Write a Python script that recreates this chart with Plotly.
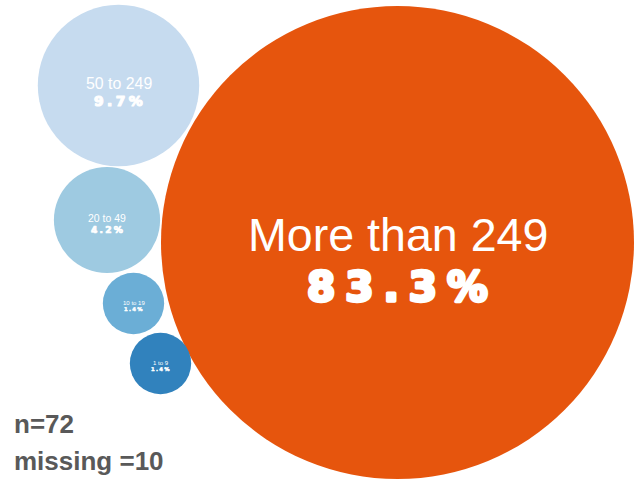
import math
import plotly.graph_objects as go

# Company size groups (number of employees) and their share of respondents
categories = ["More than 249", "50 to 249", "20 to 49", "10 to 19", "1 to 9"]
shares = [83.3, 9.7, 4.2, 1.4, 1.4]
sample_note = ["n=72", "missing =10"]

# Layout of the packed bubbles (centres in page pixels) and colours
centres_x = [397.5, 118.5, 107.0, 133.5, 160.5]
centres_y = [242.5, 85.5, 220.0, 303.5, 363.5]
colours = ["#E6550D", "#C6DBEF", "#9ECAE1", "#6BAED6", "#3182BD"]

W, H = 638, 481
MAX_DIAMETER = 473
sizeref = 2.0 * max(shares) / MAX_DIAMETER ** 2


def radius(v):
    # radius Plotly gives a bubble in area mode
    return math.sqrt(v / (2.0 * sizeref))


fig = go.Figure()
fig.add_trace(go.Scatter(
    x=centres_x, y=centres_y, mode="markers",
    marker=dict(size=shares, sizemode="area", sizeref=sizeref,
                color=colours, opacity=1, line=dict(width=0)),
    hoverinfo="skip", cliponaxis=False,
))

annotations = []
for cat, v, cx, cy in zip(categories, shares, centres_x, centres_y):
    r = radius(v)
    annotations.append(dict(
        x=cx, y=cy - 0.03 * r, xref="x", yref="y", text=cat, showarrow=False,
        font=dict(family="Liberation Sans, Arial", size=0.197 * r, color="white"),
        xanchor="center", yanchor="middle",
    ))
    spacing = 0.042 * r
    style = (f"letter-spacing:{spacing:.2f}px;"
             f"stroke:white;stroke-width:{0.014 * r:.2f}px;stroke-linejoin:round")
    annotations.append(dict(
        x=cx + spacing / 2, y=cy + 0.19 * r, xref="x", yref="y",
        text=f"<span style='{style}'>{v:.1f}%</span>",
        showarrow=False,
        font=dict(family="DejaVu Sans", size=0.172 * r, color="white", weight=900),
        xanchor="center", yanchor="middle",
    ))

for i, note in enumerate(sample_note):
    annotations.append(dict(
        x=12, y=424 + 37 * i, xref="x", yref="y", text=note, showarrow=False,
        font=dict(family="Liberation Sans", size=26,
                  color="#595959", weight="bold"),
        xanchor="left", yanchor="middle",
    ))

fig.update_layout(
    width=W, height=H, margin=dict(l=0, r=0, t=0, b=0),
    paper_bgcolor="white", plot_bgcolor="white", showlegend=False,
    xaxis=dict(range=[0, W], visible=False, fixedrange=True),
    yaxis=dict(range=[H, 0], visible=False, fixedrange=True),
    annotations=annotations,
)

fig.write_html("out.html", config={"displayModeBar": False})
